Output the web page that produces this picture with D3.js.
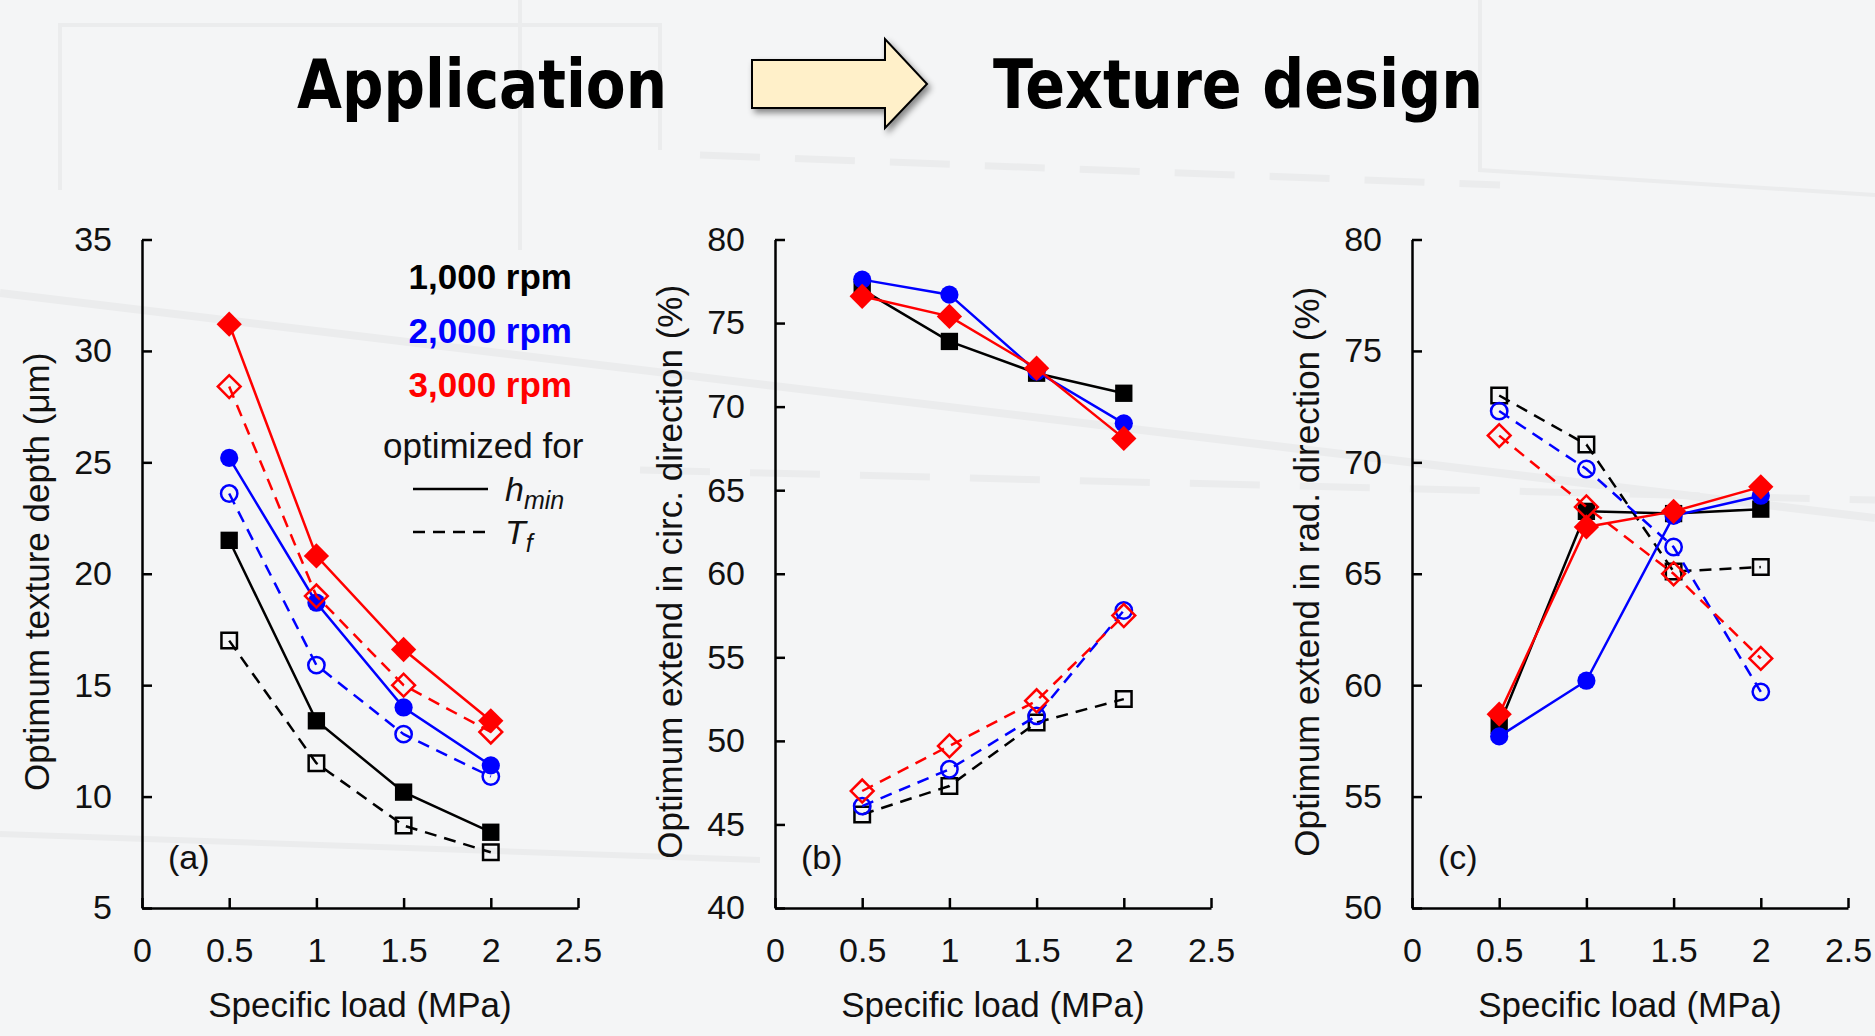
<!DOCTYPE html>
<html>
<head>
<meta charset="utf-8">
<script src="https://cdn.jsdelivr.net/npm/d3@7/dist/d3.min.js"></script>
<style>
  body {
    margin: 0;
    background: #f4f5f6;
    font-family: "Liberation Sans", Arial, Helvetica, sans-serif;
  }
  svg { display: block; }
</style>
</head>
<body>
<svg id="chart"></svg>
<script>
// x values shared by all three panels
let loads = [0.5, 1, 1.5, 2]
let xTicks = [0, 0.5, 1, 1.5, 2, 2.5]

let speeds = ["1,000 rpm", "2,000 rpm", "3,000 rpm"]
let speedColors = ["#000000", "#0000ff", "#ff0000"]
let speedShapes = ["square", "circle", "diamond"]

// (a) optimum texture depth (um), one row per speed
let depthHmin = [
  [21.5, 13.4, 10.2, 8.4],
  [25.2, 18.7, 14.0, 11.4],
  [31.2, 20.8, 16.6, 13.4]
]
let depthTf = [
  [17.0, 11.5, 8.7, 7.5],
  [23.6, 15.9, 12.8, 10.9],
  [28.4, 19.0, 15.0, 12.9]
]

// (b) optimum extend in circumferential direction (%)
let circHmin = [
  [77.0, 73.9, 72.0, 70.8],
  [77.6, 76.7, 72.1, 69.0],
  [76.6, 75.4, 72.3, 68.1]
]
let circTf = [
  [45.6, 47.3, 51.1, 52.5],
  [46.1, 48.3, 51.5, 57.8],
  [47.0, 49.7, 52.4, 57.5]
]

// (c) optimum extend in radial direction (%)
let radHmin = [
  [58.2, 67.8, 67.7, 67.9],
  [57.7, 60.2, 67.6, 68.5],
  [58.7, 67.1, 67.8, 68.9]
]
let radTf = [
  [73.0, 70.8, 65.1, 65.3],
  [72.3, 69.7, 66.2, 59.7],
  [71.2, 68.0, 65.0, 61.2]
]

let depthTicks = [5, 10, 15, 20, 25, 30, 35]
let circTicks = [40, 45, 50, 55, 60, 65, 70, 75, 80]
let radTicks = [50, 55, 60, 65, 70, 75, 80]

let width = 1875
let height = 1036

let svg = d3.select("#chart")
  .attr("width", width)
  .attr("height", height)

svg.append("rect").attr("width", width).attr("height", height).attr("fill", "#f4f5f6")

// faint drawing in the background
let deco = svg.append("g").attr("fill", "none").attr("stroke", "#ebeced")
deco.append("line").attr("x1", 0).attr("y1", 293).attr("x2", 1875).attr("y2", 518).attr("stroke-width", 8)
deco.append("line").attr("x1", 0).attr("y1", 834).attr("x2", 760).attr("y2", 860).attr("stroke-width", 6)
deco.append("line").attr("x1", 640).attr("y1", 470).attr("x2", 1875).attr("y2", 500)
  .attr("stroke-width", 7).attr("stroke-dasharray", "70,40")
deco.append("line").attr("x1", 700).attr("y1", 155).attr("x2", 1500).attr("y2", 185)
  .attr("stroke-width", 7).attr("stroke-dasharray", "60,35")
deco.append("path").attr("d", "M60,190 L60,25 L660,25 L660,150 M520,0 L520,250 M1480,0 L1480,170 L1875,195")
  .attr("stroke-width", 4)

// title
let defs = svg.append("defs")
let shadow = defs.append("filter").attr("id", "shadow")
  .attr("x", "-20%").attr("y", "-20%").attr("width", "150%").attr("height", "150%")
shadow.append("feDropShadow").attr("dx", 3).attr("dy", 4).attr("stdDeviation", 3)
  .attr("flood-color", "#000").attr("flood-opacity", 0.45)

svg.append("text")
  .attr("x", 297).attr("y", 108)
  .attr("font-family", "DejaVu Sans, sans-serif")
  .attr("font-weight", "bold").attr("font-size", 67)
  .attr("textLength", 370).attr("lengthAdjust", "spacingAndGlyphs")
  .text("Application")

svg.append("path")
  .attr("d", "M752,60 L885,60 L885,39 L927,84 L885,128 L885,108 L752,108 Z")
  .attr("fill", "#fff0c9").attr("stroke", "#000").attr("stroke-width", 2)
  .attr("filter", "url(#shadow)")

svg.append("text")
  .attr("x", 993).attr("y", 108)
  .attr("font-family", "DejaVu Sans, sans-serif")
  .attr("font-weight", "bold").attr("font-size", 67)
  .attr("textLength", 490).attr("lengthAdjust", "spacingAndGlyphs")
  .text("Texture design")

let panels = [
  { tag: "(a)", left: 142, right: 578, domain: [5, 35], ticks: depthTicks,
    label: "Optimum texture depth (\u03bcm)", hmin: depthHmin, tf: depthTf },
  { tag: "(b)", left: 775, right: 1211, domain: [40, 80], ticks: circTicks,
    label: "Optimum extend in circ. direction (%)", hmin: circHmin, tf: circTf },
  { tag: "(c)", left: 1412, right: 1848, domain: [50, 80], ticks: radTicks,
    label: "Optimum extend in rad. direction (%)", hmin: radHmin, tf: radTf }
]

let plotTop = 239.5
let plotBottom = 908

function symbolPath(shape, open) {
  let type = shape == "circle" ? d3.symbolCircle : d3.symbolSquare
  let size
  if (shape == "square") size = open ? 240 : 300
  if (shape == "circle") size = open ? 210 : 260
  if (shape == "diamond") size = open ? 260 : 320
  return d3.symbol().type(type).size(size)()
}

function drawPanel(p) {
  let x = d3.scaleLinear().domain([0, 2.5]).range([p.left, p.right])
  let y = d3.scaleLinear().domain(p.domain).range([plotBottom, plotTop])
  let g = svg.append("g")

  let axisX = d3.axisBottom(x)
    .tickValues(xTicks)
    .tickFormat(d3.format(""))
    .tickSizeInner(-10).tickSizeOuter(0).tickPadding(30)
  let gx = g.append("g").attr("transform", `translate(0,${plotBottom})`).call(axisX)

  let axisY = d3.axisLeft(y)
    .tickValues(p.ticks)
    .tickFormat(d3.format(""))
    .tickSizeInner(-10).tickSizeOuter(0).tickPadding(30)
  let gy = g.append("g").attr("transform", `translate(${p.left},0)`).call(axisY)

  for (let ax of [gx, gy]) {
    ax.attr("font-family", "Liberation Sans, Arial, sans-serif").attr("font-size", 34)
    ax.select(".domain").attr("stroke", "#000").attr("stroke-width", 2.5)
    ax.selectAll(".tick line").attr("stroke", "#000").attr("stroke-width", 2.5)
    ax.selectAll(".tick text").attr("fill", "#111")
  }

  g.append("text")
    .attr("x", (p.left + p.right) / 2).attr("y", 1017)
    .attr("text-anchor", "middle").attr("font-size", 35).attr("fill", "#111")
    .text("Specific load (MPa)")

  g.append("text")
    .attr("transform", `translate(${p.left - 93},${(plotTop + plotBottom) / 2 - 2}) rotate(-90)`)
    .attr("text-anchor", "middle").attr("font-size", 35).attr("fill", "#111")
    .text(p.label)

  g.append("text")
    .attr("x", p.left + 26).attr("y", 869)
    .attr("font-size", 34).attr("fill", "#111")
    .text(p.tag)

  let line = d3.line().x((d, i) => x(loads[i])).y(d => y(d))

  speeds.forEach((s, k) => {
    let color = speedColors[k]
    let shape = speedShapes[k]
    let rot = shape == "diamond" ? " rotate(45)" : ""

    // optimized for h_min: solid line, filled markers
    g.append("path").datum(p.hmin[k])
      .attr("d", line).attr("fill", "none")
      .attr("stroke", color).attr("stroke-width", 2.5)
    g.selectAll(null).data(p.hmin[k]).enter().append("path")
      .attr("d", symbolPath(shape, false))
      .attr("transform", (d, i) => `translate(${x(loads[i])},${y(d)})${rot}`)
      .attr("fill", color)

    // optimized for T_f: dashed line, open markers
    g.append("path").datum(p.tf[k])
      .attr("d", line).attr("fill", "none")
      .attr("stroke", color).attr("stroke-width", 2.5)
      .attr("stroke-dasharray", "12,8")
    g.selectAll(null).data(p.tf[k]).enter().append("path")
      .attr("d", symbolPath(shape, true))
      .attr("transform", (d, i) => `translate(${x(loads[i])},${y(d)})${rot}`)
      .attr("fill", "none").attr("stroke", color).attr("stroke-width", 2.5)
  })
}

panels.forEach(drawPanel)

// legend inside panel (a)
let legend = svg.append("g")
speeds.forEach((s, k) => {
  legend.append("text")
    .attr("x", 572).attr("y", 289 + k * 54)
    .attr("text-anchor", "end")
    .attr("font-weight", "bold").attr("font-size", 35)
    .attr("fill", speedColors[k])
    .text(s)
})
legend.append("text")
  .attr("x", 383).attr("y", 458)
  .attr("font-size", 35).attr("fill", "#111")
  .text("optimized for")

let legendStyles = [
  { name: "h", sub: "min", dash: null, y: 489 },
  { name: "T", sub: "f", dash: "12,8", y: 532 }
]
legendStyles.forEach(l => {
  legend.append("line")
    .attr("x1", 413).attr("x2", 488).attr("y1", l.y).attr("y2", l.y)
    .attr("stroke", "#000").attr("stroke-width", 2.5)
    .attr("stroke-dasharray", l.dash)
  let t = legend.append("text")
    .attr("x", 505).attr("y", l.y + 12)
    .attr("font-size", 34).attr("font-style", "italic").attr("fill", "#111")
  t.append("tspan").text(l.name)
  t.append("tspan").attr("dy", 8).attr("font-size", 25).text(l.sub)
})
</script>
</body>
</html>
